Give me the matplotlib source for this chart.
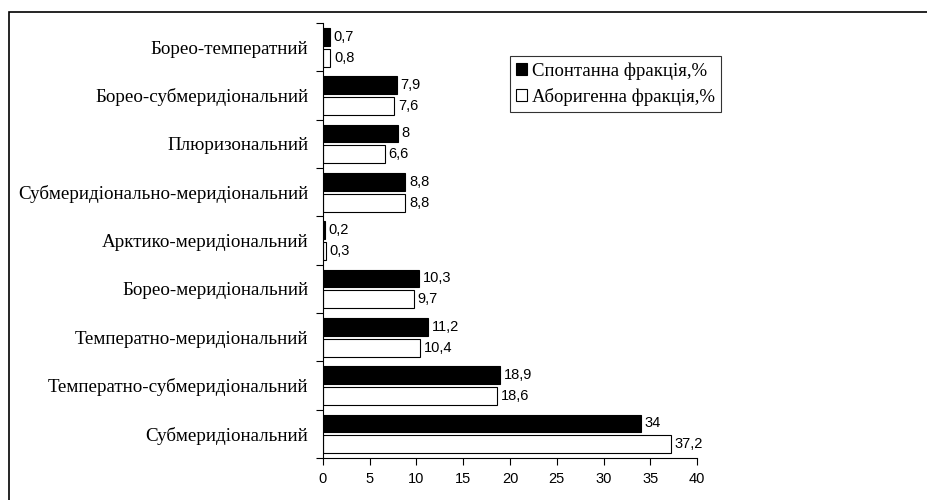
import matplotlib
matplotlib.use("Agg")
import matplotlib.pyplot as plt
from matplotlib.patches import Rectangle

categories = [
    "Борео-температний",
    "Борео-субмеридіональний",
    "Плюризональний",
    "Субмеридіонально-меридіональний",
    "Арктико-меридіональний",
    "Борео-меридіональний",
    "Температно-меридіональний",
    "Температно-субмеридіональний",
    "Субмеридіональний",
]
spontaneous = [0.7, 7.9, 8, 8.8, 0.2, 10.3, 11.2, 18.9, 34]
aboriginal = [0.8, 7.6, 6.6, 8.8, 0.3, 9.7, 10.4, 18.6, 37.2]
series_names = ["Спонтанна фракція,%", "Аборигенна фракція,%"]
xticks = [0, 5, 10, 15, 20, 25, 30, 35, 40]

def fmt(v):
    s = ("%g" % v).replace(".", ",")
    return s

W, H = 928, 500
fig = plt.figure(figsize=(W / 100, H / 100), dpi=100)
ax = fig.add_axes([323 / W, 1 - 458 / H, (697 - 323) / W, (458 - 23) / H])

# outer frame
fig.patches.append(Rectangle((9.5 / W, -0.05), 1.2, 1 - 11.5 / H + 0.05,
                             transform=fig.transFigure, fill=False,
                             edgecolor="black", linewidth=1.2, zorder=0))

n = len(categories)
pos = list(range(n))
h = 0.37
off = 0.215
ax.barh([p - off for p in pos], spontaneous, height=h, color="black",
        edgecolor="black", linewidth=0.8, label=series_names[0])
ax.barh([p + off for p in pos], aboriginal, height=h, color="white",
        edgecolor="black", linewidth=0.8, label=series_names[1])

sans = "Liberation Sans"
serif = "Liberation Serif"
for p, v in zip(pos, spontaneous):
    ax.text(v + 0.4, p - off, fmt(v), va="center", ha="left",
            fontsize=10.5, family=sans)
for p, v in zip(pos, aboriginal):
    ax.text(v + 0.4, p + off, fmt(v), va="center", ha="left",
            fontsize=10.5, family=sans)

ax.set_xlim(0, 40)
ax.set_ylim(n - 0.5, -0.5)
ax.set_xticks(xticks)
ax.set_xticklabels([str(t) for t in xticks], family=sans, fontsize=10.5)
ax.set_yticks([p - 0.5 for p in pos] + [n - 0.5])
ax.set_yticklabels([])
ax.set_yticks(pos, minor=True)
ax.set_yticklabels(categories, minor=True, family=serif, fontsize=13.7)
ax.tick_params(axis="y", which="minor", length=0, pad=10.5)
ax.tick_params(axis="y", which="major", length=5, width=0.8, direction="out")
ax.tick_params(axis="x", length=5, width=0.8, direction="out", pad=5)
for s in ["top", "right"]:
    ax.spines[s].set_visible(False)
for s in ["left", "bottom"]:
    ax.spines[s].set_linewidth(0.8)

leg = ax.legend(loc="upper left", bbox_to_anchor=((510 - 323) / (697 - 323), 1 - (56 - 23) / (458 - 23)),
                prop={"family": serif, "size": 13.5}, frameon=True, fancybox=False,
                edgecolor="black", handlelength=0.6, handleheight=0.6,
                handletextpad=0.25, borderpad=0.32, labelspacing=0.45,
                borderaxespad=0)
leg.get_frame().set_linewidth(0.8)

fig.savefig("out.png", dpi=100)
